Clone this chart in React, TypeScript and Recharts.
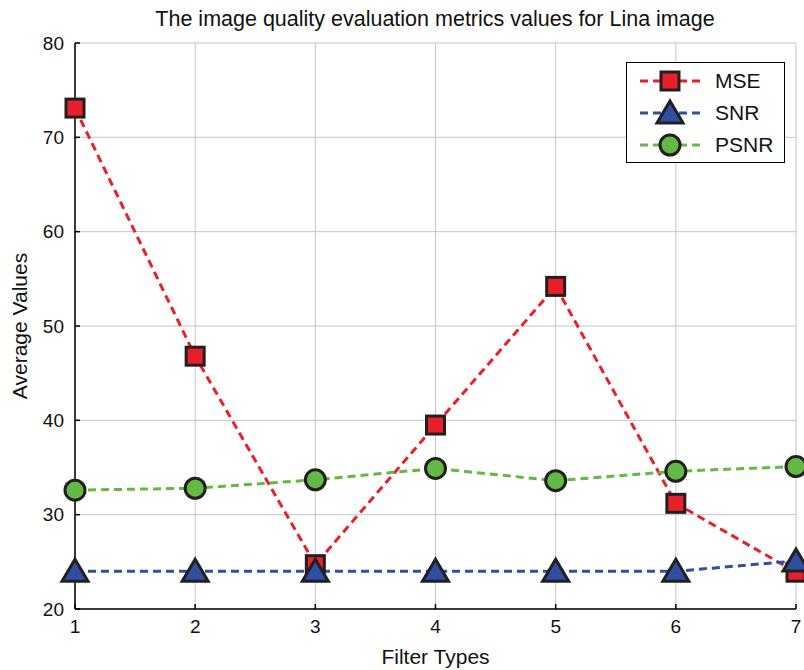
import React from "react";
import { LineChart, Line, XAxis, YAxis, CartesianGrid, Legend } from "recharts";

const filterTypes = [1, 2, 3, 4, 5, 6, 7];
const mse = [73.1, 46.8, 24.7, 39.5, 54.2, 31.2, 23.9];
const snr = [24.0, 24.0, 24.0, 24.0, 24.0, 24.0, 25.1];
const psnr = [32.6, 32.8, 33.7, 34.9, 33.6, 34.6, 35.1];
const yTicks = [20, 30, 40, 50, 60, 70, 80];

const data = filterTypes.map((f, i) => ({ f, MSE: mse[i], SNR: snr[i], PSNR: psnr[i] }));

const FONT = "Liberation Sans, Arial, sans-serif";
const RED = "#e8202a";
const BLUE = "#2f4fa3";
const GREEN = "#63b944";

// marker shapes, MATLAB style
function Square(props: any) {
  const { cx, cy } = props;
  if (cx == null || cy == null) return null;
  return <rect x={cx - 9} y={cy - 9} width={18} height={18} fill={RED} stroke="#231f20" strokeWidth={3} />;
}
function Triangle(props: any) {
  const { cx, cy } = props;
  if (cx == null || cy == null) return null;
  return (
    <polygon
      points={`${cx},${cy - 12} ${cx + 13},${cy + 10} ${cx - 13},${cy + 10}`}
      fill={BLUE}
      stroke="#231f20"
      strokeWidth={3}
      strokeLinejoin="miter"
    />
  );
}
function Circle(props: any) {
  const { cx, cy } = props;
  if (cx == null || cy == null) return null;
  return <circle cx={cx} cy={cy} r={10} fill={GREEN} stroke="#231f20" strokeWidth={3} />;
}

const legendItems = [
  { name: "MSE", color: RED, Shape: Square },
  { name: "SNR", color: BLUE, Shape: Triangle },
  { name: "PSNR", color: GREEN, Shape: Circle },
];

function LegendBox() {
  return (
    <svg width={160} height={102} style={{ display: "block" }}>
      <rect x={0.5} y={0.5} width={158} height={100} fill="#fff" stroke="#000" strokeWidth={1} />
      {legendItems.map((it, i) => {
        const y = 19 + i * 32;
        return (
          <g key={it.name}>
            <line x1={14} x2={74} y1={y} y2={y} stroke={it.color} strokeWidth={3} strokeDasharray="8 5" />
            <it.Shape cx={44} cy={y} />
            <text x={89} y={y + 7} fontSize={21} fontFamily={FONT} fill="#111">
              {it.name}
            </text>
          </g>
        );
      })}
    </svg>
  );
}

export default function App() {
  return (
    <div style={{ position: "absolute", left: 0, top: 0, background: "#fff" }}>
      <LineChart width={804} height={670} data={data} margin={{ top: 43, right: 8, bottom: 0, left: 0 }}>
        <text x={435} y={26} textAnchor="middle" fontSize={21.5} fontFamily={FONT} fill="#111">
          The image quality evaluation metrics values for Lina image
        </text>
        <CartesianGrid stroke="#c4c4c4" strokeWidth={1} verticalValues={filterTypes} horizontalValues={yTicks} />
        <XAxis
          dataKey="f"
          type="number"
          domain={[1, 7]}
          ticks={filterTypes}
          height={61}
          stroke="#000"
          strokeWidth={1.5}
          tickSize={-5}
          tick={{ fill: "#111", fontSize: 19, fontFamily: FONT, dy: 14 }}
          label={{ value: "Filter Types", position: "insideBottom", offset: 6, fill: "#111", fontSize: 21, fontFamily: FONT }}
        />
        <XAxis xAxisId="top" orientation="top" dataKey="f" type="number" domain={[1, 7]} ticks={filterTypes} height={0} stroke="#000" tick={false} tickSize={-5} />
        <YAxis
          type="number"
          domain={[20, 80]}
          ticks={yTicks}
          width={75}
          stroke="#000"
          strokeWidth={1.5}
          tickSize={-5}
          tick={{ fill: "#111", fontSize: 19, fontFamily: FONT, dx: -14 }}
          label={{ value: "Average Values", angle: -90, position: "insideLeft", offset: 20, fill: "#111", fontSize: 21, fontFamily: FONT, style: { textAnchor: "middle" } }}
        />
        <YAxis yAxisId="right" orientation="right" type="number" domain={[20, 80]} ticks={yTicks} width={0} stroke="#000" tick={false} tickSize={-5} />
        <Legend
          layout="horizontal"
          verticalAlign="middle"
          align="center"
          wrapperStyle={{ position: "absolute", left: 626, top: 62, width: 160, height: 102 }}
          content={() => <LegendBox />}
        />
        <Line dataKey="MSE" stroke={RED} strokeWidth={3} strokeDasharray="8 5" dot={<Square />} activeDot={false} isAnimationActive={false} />
        <Line dataKey="SNR" stroke={BLUE} strokeWidth={3} strokeDasharray="8 5" dot={<Triangle />} activeDot={false} isAnimationActive={false} />
        <Line dataKey="PSNR" stroke={GREEN} strokeWidth={3} strokeDasharray="8 5" dot={<Circle />} activeDot={false} isAnimationActive={false} />
      </LineChart>
    </div>
  );
}
